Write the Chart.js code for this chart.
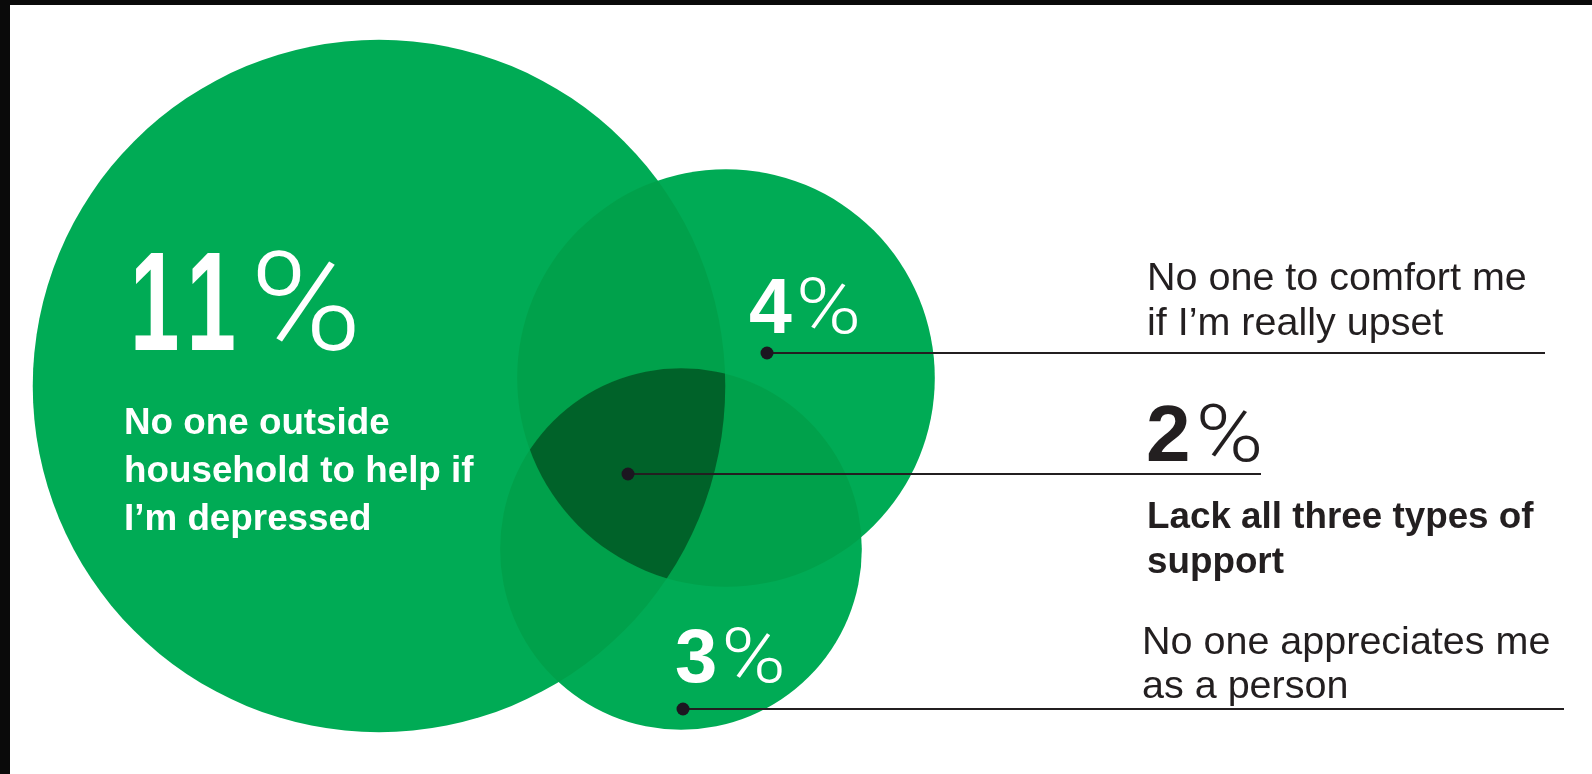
<!DOCTYPE html>
<html>
<head>
<meta charset="utf-8">
<script src="https://cdn.jsdelivr.net/npm/chart.js@4.4.1/dist/chart.umd.min.js"></script>
<style>
  html, body { margin: 0; padding: 0; background: #fff; }
  #wrap { position: relative; width: 1592px; height: 774px; }
</style>
</head>
<body>
<div id="wrap"><canvas id="venn"></canvas></div>
<script>
// 📋 DATOS
const groups = [
  ["No one outside", "household to help if", "I’m depressed"],
  ["No one to comfort me", "if I’m really upset"],
  ["No one appreciates me", "as a person"]
];
const shares = [11, 4, 3];          // % de cada grupo
const allThreeShare = 2;            // % que no tiene ninguno de los tres apoyos
const allThreeLabel = ["Lack all three types of", "support"];

// 📐 DISPOSICIÓN (unidades del eje = px)
const circleCenters = [[379, 386], [726, 378], [681, 549]];
const radiusPerSqrt = 104.4;        // radio por raiz(%), area proporcional al %
const dotPoints = [[767, 353], [628, 474], [683, 709]];   // 4%, 2%, 3%
const lineEnds = [1545, 1261, 1564];

const GREEN = "#00ab55";
const GREEN_2 = "#00a14b";
const GREEN_3 = "#006229";
const INK = "#231f20";

// 🟢 SOMBRA DE LAS INTERSECCIONES
const overlapPlugin = {
  id: "overlaps",
  afterDatasetDraw(chart, args) {
    if (chart.data.datasets[args.index].label !== "circles") return;
    const ctx = chart.ctx;
    const els = args.meta.data;
    const path = el => {
      ctx.beginPath();
      ctx.arc(el.x, el.y, el.options.radius, 0, Math.PI * 2);
    };
    for (let i = 0; i < els.length; i++) {
      for (let j = i + 1; j < els.length; j++) {
        ctx.save();
        path(els[i]); ctx.clip();
        path(els[j]); ctx.fillStyle = GREEN_2; ctx.fill();
        ctx.restore();
      }
    }
    ctx.save();
    path(els[0]); ctx.clip();
    path(els[1]); ctx.clip();
    path(els[2]); ctx.fillStyle = GREEN_3; ctx.fill();
    ctx.restore();
  }
};

// 🔤 TEXTOS
function pctText(ctx, x, y, num, size, color, squeeze, pctSize, pctWide, gap, track) {
  ctx.save();
  ctx.fillStyle = color;
  ctx.textBaseline = "alphabetic";
  ctx.font = "bold " + size + "px 'Liberation Sans', Arial, sans-serif";
  let cx = x;
  // digito por digito, sin kerning
  String(num).split("").forEach((ch, i) => {
    if (i > 0) cx += track || 0;
    ctx.save();
    ctx.translate(cx, y);
    ctx.scale(squeeze, 1);
    ctx.fillText(ch, 0, 0);
    ctx.restore();
    cx += ctx.measureText(ch).width * squeeze;
  });
  ctx.restore();
  ctx.save();
  ctx.fillStyle = color;
  ctx.font = "300 " + pctSize + "px Roboto, 'Open Sans', sans-serif";
  ctx.translate(cx + gap, y);
  ctx.scale(pctWide, 1);
  ctx.fillText("%", 0, 0);
  ctx.restore();
}

function lines(ctx, x, y, arr, font, color, lh) {
  ctx.save();
  ctx.font = font;
  ctx.fillStyle = color;
  ctx.textBaseline = "alphabetic";
  arr.forEach((t, i) => ctx.fillText(t, x, y + i * lh));
  ctx.restore();
}

const textPlugin = {
  id: "texts",
  beforeDraw(chart) {
    const ctx = chart.ctx;
    ctx.save();
    ctx.fillStyle = "#0a0a0a";
    ctx.fillRect(0, 0, chart.width, 5);
    ctx.fillRect(0, 0, 10, chart.height);
    ctx.restore();
  },
  afterDraw(chart) {
    const ctx = chart.ctx;
    const X = v => chart.scales.x.getPixelForValue(v);
    const Y = v => chart.scales.y.getPixelForValue(v);
    const regular = "39.5px 'Liberation Sans', Arial, sans-serif";
    const bold = "bold 36.8px 'Liberation Sans', Arial, sans-serif";

    pctText(ctx, X(130), Y(350), shares[0], 141, "#fff", 0.63, 138, 1.1, 14, 7);
    lines(ctx, X(124), Y(434), groups[0], bold, "#fff", 48);

    pctText(ctx, X(749), Y(333), shares[1], 77, "#fff", 1, 77, 1.15, 4);
    pctText(ctx, X(675), Y(682), shares[2], 76, "#fff", 1, 76, 1.15, 4);

    lines(ctx, X(1147), Y(290), groups[1], regular, INK, 45);
    pctText(ctx, X(1146), Y(461), allThreeShare, 80, INK, 1, 80, 1.15, 5);
    lines(ctx, X(1147), Y(528), allThreeLabel, bold, INK, 45);
    lines(ctx, X(1142), Y(654), groups[2], regular, INK, 44);
  }
};

// 📊 GRAFICA
const circles = shares.map((v, i) => ({ x: circleCenters[i][0], y: circleCenters[i][1], v: v }));

const leader = (p, end) => ({
  type: "line",
  data: [{ x: p[0], y: p[1] }, { x: end, y: p[1] }],
  borderColor: INK,
  borderWidth: 2,
  pointRadius: c => (c.dataIndex === 0 ? 6.5 : 0),
  pointBackgroundColor: "#1c1620",
  pointBorderWidth: 0,
  clip: false
});

new Chart(document.getElementById("venn"), {
  type: "scatter",
  data: {
    datasets: [
      leader(dotPoints[0], lineEnds[0]),
      leader(dotPoints[1], lineEnds[1]),
      leader(dotPoints[2], lineEnds[2]),
      {
        label: "circles",
        type: "scatter",
        data: circles,
        backgroundColor: GREEN,
        borderWidth: 0,
        clip: false,
        pointRadius: c => {
          const s = c.chart.scales.x;
          const r = radiusPerSqrt * Math.sqrt(c.raw.v);
          const px = Math.abs(s.getPixelForValue(r) - s.getPixelForValue(0));
          return isFinite(px) ? px : 0;
        }
      }
    ]
  },
  options: {
    responsive: true,
    maintainAspectRatio: false,
    animation: false,
    events: [],
    layout: { padding: 0, autoPadding: false },
    plugins: { legend: { display: false }, tooltip: { enabled: false } },
    scales: {
      x: { type: "linear", min: 0, max: 1592, display: false },
      y: { type: "linear", min: 0, max: 774, reverse: true, display: false }
    }
  },
  plugins: [overlapPlugin, textPlugin]
});
</script>
</body>
</html>
